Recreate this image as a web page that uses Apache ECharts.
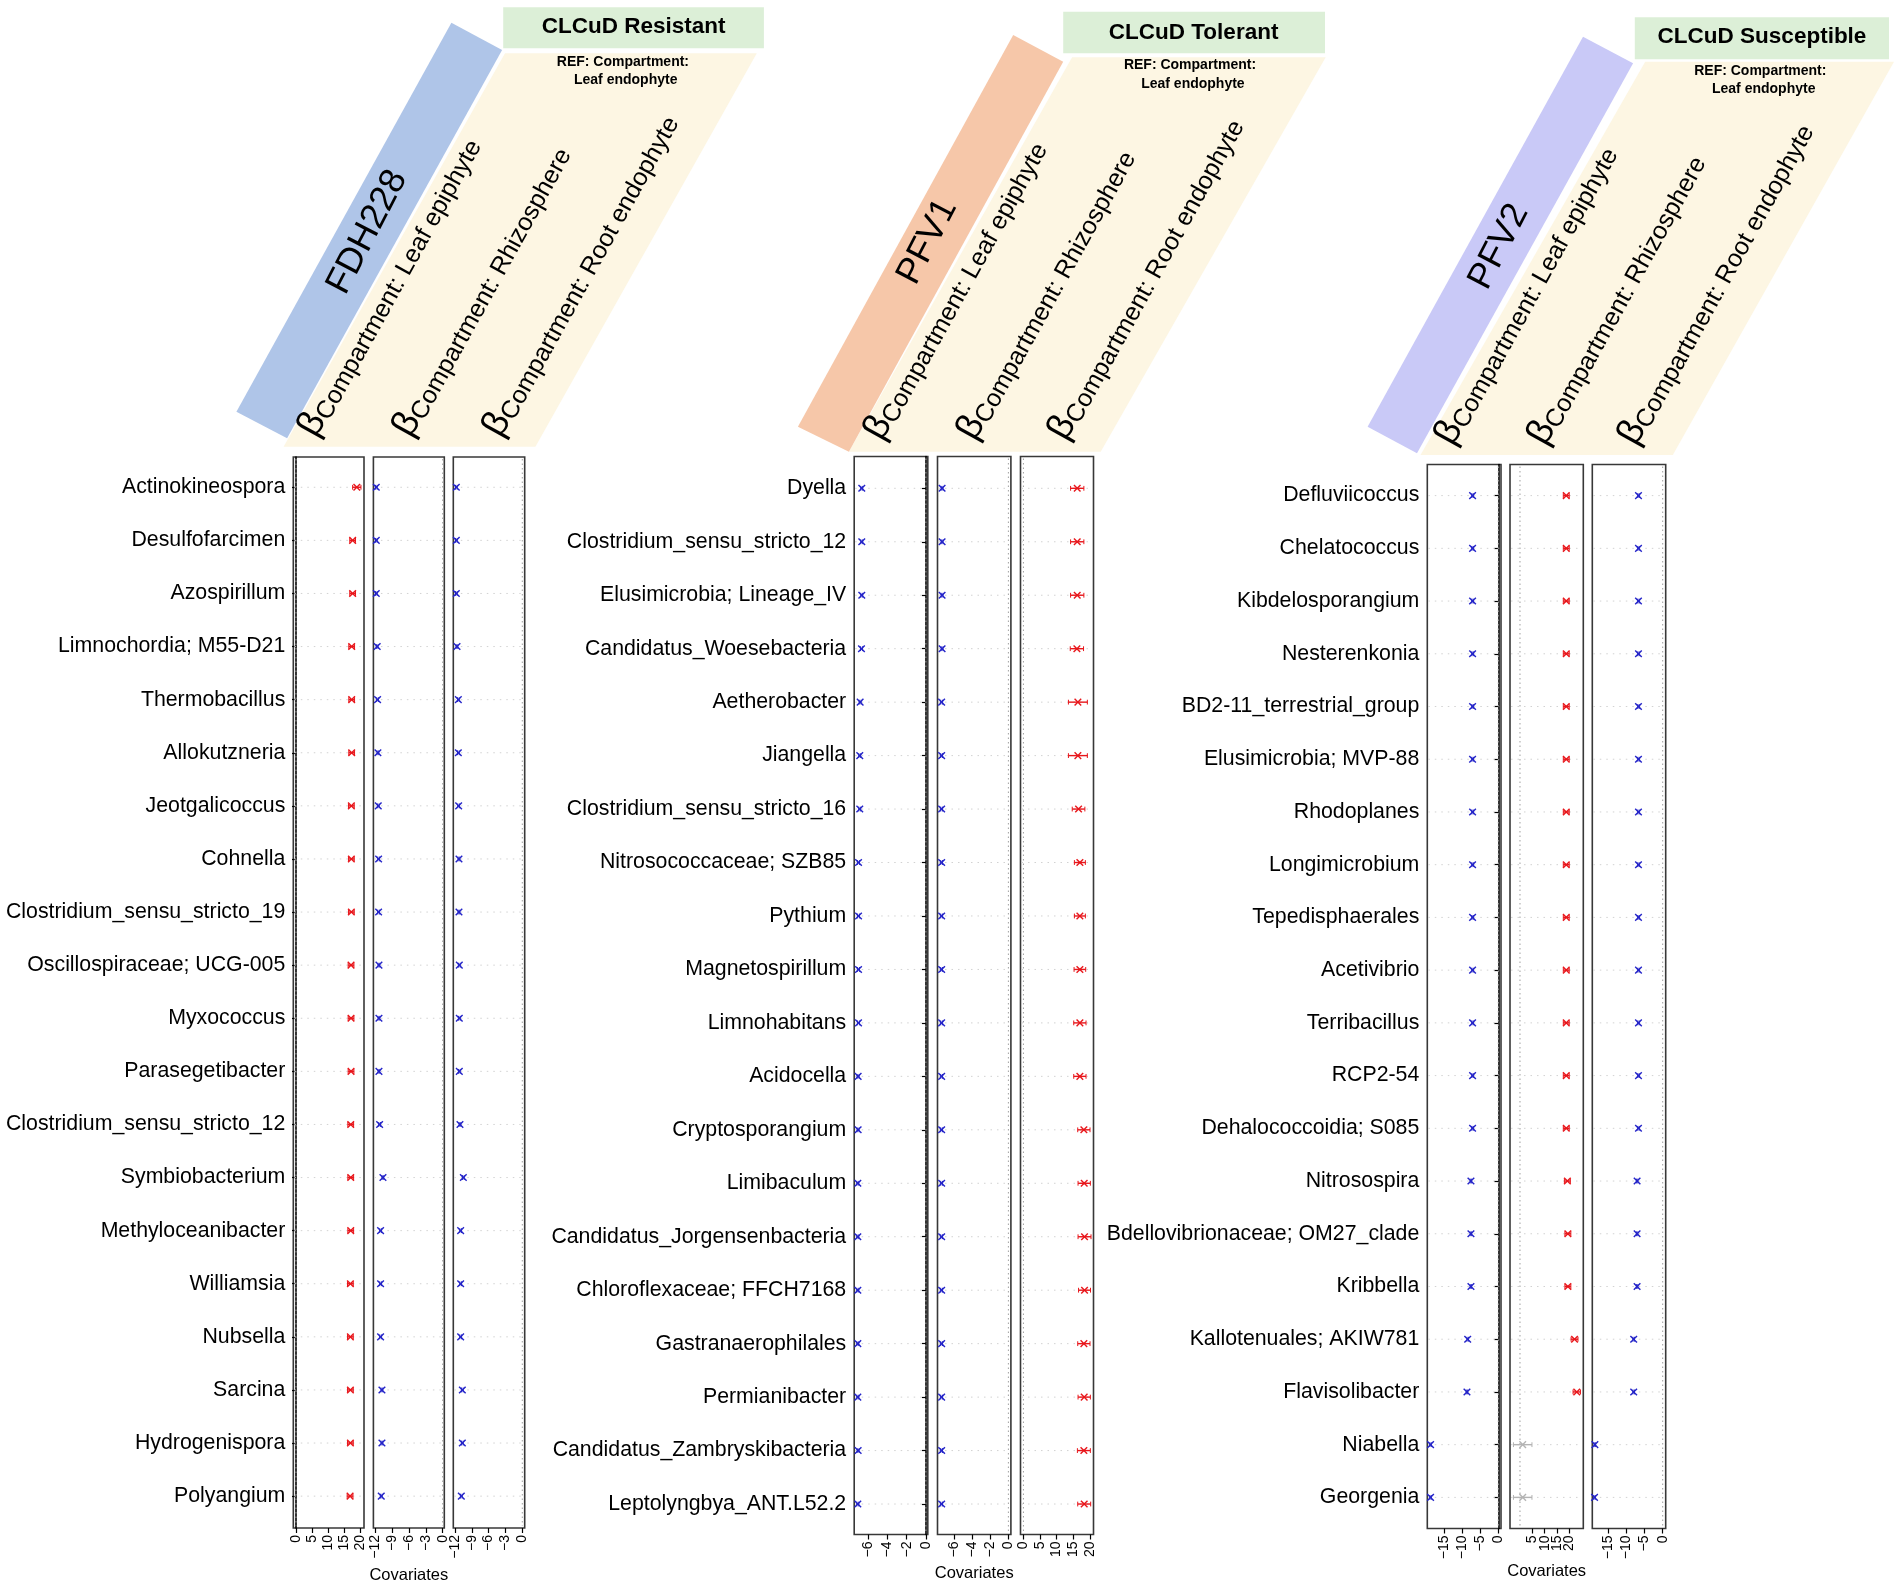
<!DOCTYPE html>
<html><head><meta charset="utf-8">
<script src="https://cdn.jsdelivr.net/npm/echarts@6/dist/echarts.min.js"></script>
<style>html,body{margin:0;padding:0;background:#fff}#c{width:1902px;height:1585px}</style>
</head><body><div id="c"></div>
<script>
// ---------------- DATA ----------------
const resistantTaxa = ['Actinokineospora','Desulfofarcimen','Azospirillum','Limnochordia; M55-D21','Thermobacillus','Allokutzneria','Jeotgalicoccus','Cohnella','Clostridium_sensu_stricto_19','Oscillospiraceae; UCG-005','Myxococcus','Parasegetibacter','Clostridium_sensu_stricto_12','Symbiobacterium','Methyloceanibacter','Williamsia','Nubsella','Sarcina','Hydrogenispora','Polyangium'];
const resistantEpiphyte = [19.0,17.7,17.7,17.4,17.4,17.4,17.3,17.3,17.3,17.2,17.2,17.2,17.1,17.1,17.1,17.0,17.0,17.0,17.0,16.9];
const resistantEpiphyteErr = [1.3,0.9,0.9,0.9,0.9,0.9,0.9,0.9,0.9,0.9,0.9,0.9,0.9,0.9,0.9,0.9,0.9,0.9,0.9,0.9];
const resistantRhizosphere = [-11.76,-11.76,-11.76,-11.6,-11.53,-11.47,-11.41,-11.35,-11.35,-11.29,-11.29,-11.29,-11.17,-10.58,-11.0,-11.0,-11.0,-10.76,-10.76,-10.88];
const resistantRhizosphereErr = [0.15,0.15,0.15,0.15,0.15,0.15,0.15,0.15,0.15,0.15,0.15,0.15,0.15,0.15,0.15,0.15,0.15,0.15,0.15,0.15];
const resistantRoot = [-11.76,-11.76,-11.76,-11.64,-11.4,-11.4,-11.35,-11.29,-11.29,-11.23,-11.23,-11.23,-11.11,-10.51,-10.99,-10.99,-10.99,-10.69,-10.69,-10.87];
const resistantRootErr = [0.15,0.15,0.15,0.15,0.15,0.15,0.15,0.15,0.15,0.15,0.15,0.15,0.15,0.15,0.15,0.15,0.15,0.15,0.15,0.15];

const tolerantTaxa = ['Dyella','Clostridium_sensu_stricto_12','Elusimicrobia; Lineage_IV','Candidatus_Woesebacteria','Aetherobacter','Jiangella','Clostridium_sensu_stricto_16','Nitrosococcaceae; SZB85','Pythium','Magnetospirillum','Limnohabitans','Acidocella','Cryptosporangium','Limibaculum','Candidatus_Jorgensenbacteria','Chloroflexaceae; FFCH7168','Gastranaerophilales','Permianibacter','Candidatus_Zambryskibacteria','Leptolyngbya_ANT.L52.2'];
const tolerantEpiphyte = [-6.69,-6.69,-6.69,-6.72,-6.86,-6.9,-6.9,-7.03,-7.03,-7.03,-7.03,-7.07,-7.07,-7.1,-7.1,-7.1,-7.1,-7.1,-7.07,-7.1];
const tolerantEpiphyteErr = [0.1,0.1,0.1,0.1,0.1,0.1,0.1,0.1,0.1,0.1,0.1,0.1,0.1,0.1,0.1,0.1,0.1,0.1,0.1,0.1];
const tolerantRhizosphere = [-7.37,-7.37,-7.37,-7.37,-7.42,-7.42,-7.42,-7.42,-7.42,-7.42,-7.42,-7.42,-7.42,-7.42,-7.42,-7.42,-7.42,-7.42,-7.42,-7.42];
const tolerantRhizosphereErr = [0.1,0.1,0.1,0.1,0.1,0.1,0.1,0.1,0.1,0.1,0.1,0.1,0.1,0.1,0.1,0.1,0.1,0.1,0.1,0.1];
const tolerantRoot = [16.2,16.2,16.2,16.1,16.4,16.4,16.6,17.0,17.0,17.0,17.0,17.0,18.2,18.3,18.4,18.4,18.2,18.3,18.2,18.3];
const tolerantRootErr = [2.0,2.0,2.0,2.0,2.85,2.85,1.9,1.65,1.65,1.75,1.85,1.85,1.85,1.85,1.95,1.8,1.85,1.85,1.95,1.95];

const susceptibleTaxa = ['Defluviicoccus','Chelatococcus','Kibdelosporangium','Nesterenkonia','BD2-11_terrestrial_group','Elusimicrobia; MVP-88','Rhodoplanes','Longimicrobium','Tepedisphaerales','Acetivibrio','Terribacillus','RCP2-54','Dehalococcoidia; S085','Nitrosospira','Bdellovibrionaceae; OM27_clade','Kribbella','Kallotenuales; AKIW781','Flavisolibacter','Niabella','Georgenia'];
const susceptibleEpiphyte = [-7.1,-7.1,-7.1,-7.1,-7.1,-7.1,-7.1,-7.1,-7.1,-7.1,-7.1,-7.1,-7.1,-7.55,-7.55,-7.55,-8.45,-8.65,-18.7,-18.7];
const susceptibleEpiphyteErr = [0.2,0.2,0.2,0.2,0.2,0.2,0.2,0.2,0.2,0.2,0.2,0.2,0.2,0.2,0.2,0.2,0.2,0.2,0.2,0.2];
const susceptibleRhizosphere = [18.75,18.75,18.75,18.75,18.75,18.75,18.75,18.75,18.75,18.75,18.75,18.75,18.75,19.2,19.4,19.4,22.1,23.0,1.1,1.1];
const susceptibleRhizosphereErr = [1.2,1.2,1.2,1.2,1.2,1.2,1.2,1.2,1.2,1.2,1.2,1.2,1.2,1.2,1.2,1.2,1.4,1.5,3.75,3.75];
const susceptibleRoot = [-6.68,-6.68,-6.68,-6.68,-6.68,-6.68,-6.68,-6.68,-6.68,-6.68,-6.68,-6.68,-6.68,-7.06,-7.06,-7.06,-8.0,-8.0,-18.7,-18.8];
const susceptibleRootErr = [0.2,0.2,0.2,0.2,0.2,0.2,0.2,0.2,0.2,0.2,0.2,0.2,0.2,0.2,0.2,0.2,0.2,0.2,0.2,0.2];

const ticksResistant = [[0,5,10,15,20],[-12,-9,-6,-3,0],[-12,-9,-6,-3,0]];
const ticksTolerant = [[-6,-4,-2,0],[-6,-4,-2,0],[0,5,10,15,20]];
const ticksSusceptible = [[-15,-10,-5,0],[0,5,10,15,20,25],[-15,-10,-5,0]];
const rowTicks = [1,2,3,4,5,6,7,8,9,10,11,12,13,14,15,16,17,18,19,20];

// ---------------- LAYOUT ----------------
const RED = '#e8161b', BLUE = '#2424c8', GRAY = '#b4b4b4';
const FONT = "'Liberation Sans', Arial, Helvetica, sans-serif";
const groups = [
  { taxa: resistantTaxa, ticks: ticksResistant, top: 457, height: 1071, ymin: 0.43, ymax: 20.6, nameGap: 34,
    series: [[resistantEpiphyte, resistantEpiphyteErr],[resistantRhizosphere, resistantRhizosphereErr],[resistantRoot, resistantRootErr]],
    panels: [{left:293.3,width:70.7,min:-0.84,max:21.25},{left:373.4,width:70.9,min:-12.27,max:0.28},{left:453.3,width:71.4,min:-12.3,max:0.43}] },
  { taxa: tolerantTaxa, ticks: ticksTolerant, top: 456.5, height: 1078, ymin: 0.405, ymax: 20.57, nameGap: 29,
    series: [[tolerantEpiphyte, tolerantEpiphyteErr],[tolerantRhizosphere, tolerantRhizosphereErr],[tolerantRoot, tolerantRootErr]],
    panels: [{left:854.2,width:73.6,min:-7.48,max:0.2},{left:937.5,width:73.4,min:-7.88,max:0.28},{left:1020.5,width:73,min:-0.88,max:21.1}] },
  { taxa: susceptibleTaxa, ticks: ticksSusceptible, top: 464.5, height: 1064, ymin: 0.41, ymax: 20.59, nameGap: 34,
    series: [[susceptibleEpiphyte, susceptibleEpiphyteErr],[susceptibleRhizosphere, susceptibleRhizosphereErr],[susceptibleRoot, susceptibleRootErr]],
    panels: [{left:1427.3,width:73.7,min:-19.6,max:0.75},{left:1510,width:73.3,min:-4.05,max:25.65},{left:1592.3,width:73.4,min:-19.42,max:0.83}] }
];

function fmtTick(v){ return v < 0 ? '\u2212' + Math.abs(v) : String(v); }

function renderItem(params, api){
  const est = api.value(0), row = api.value(1), lo = api.value(2), hi = api.value(3);
  const cs = params.coordSys;
  const p = api.coord([est,row]), pl = api.coord([lo,row]), ph = api.coord([hi,row]);
  const col = lo > 0 ? RED : (hi < 0 ? BLUE : GRAY);
  const ch = [];
  ch.push({type:'line', silent:true, shape:{x1:cs.x+1, y1:p[1], x2:cs.x+cs.width-1, y2:p[1]}, style:{stroke:'#d2d2d2', lineWidth:1, lineDash:[1.5,5]}});
  if (params.dataIndex === 0){
    const z = api.coord([0,row])[0];
    ch.push({type:'line', silent:true, shape:{x1:z, y1:cs.y+2, x2:z, y2:cs.y+cs.height-2}, style:{stroke:'#a0a0a0', lineWidth:1, lineDash:[1.5,3]}});
  }
  ch.push({type:'line', shape:{x1:pl[0], y1:p[1], x2:ph[0], y2:p[1]}, style:{stroke:col, lineWidth:1.4}});
  const c = 2.4;
  ch.push({type:'line', shape:{x1:pl[0], y1:p[1]-c, x2:pl[0], y2:p[1]+c}, style:{stroke:col, lineWidth:1}});
  ch.push({type:'line', shape:{x1:ph[0], y1:p[1]-c, x2:ph[0], y2:p[1]+c}, style:{stroke:col, lineWidth:1}});
  const s = 3.3;
  ch.push({type:'line', shape:{x1:p[0]-s, y1:p[1]-s, x2:p[0]+s, y2:p[1]+s}, style:{stroke:col, lineWidth:1.4}});
  ch.push({type:'line', shape:{x1:p[0]-s, y1:p[1]+s, x2:p[0]+s, y2:p[1]-s}, style:{stroke:col, lineWidth:1.4}});
  return {type:'group', children:ch};
}

const grid = [], xAxis = [], yAxis = [], series = [];
groups.forEach((g, gi) => {
  g.panels.forEach((pn, pi) => {
    const idx = grid.length;
    grid.push({left:pn.left, top:g.top, width:pn.width, height:g.height, show:true, borderColor:'#383838', borderWidth:1.6, backgroundColor:'rgba(0,0,0,0)', containLabel:false, outerBoundsMode:'none'});
    const ticks = g.ticks[pi];
    xAxis.push({gridIndex:idx, type:'value', min:pn.min, max:pn.max,
      name: pi === 1 ? 'Covariates' : '', nameLocation:'middle', nameGap:g.nameGap,
      nameTextStyle:{fontSize:16.5, color:'#000', fontFamily:FONT},
      axisLine:{show:false}, splitLine:{show:false},
      axisTick:{show:true, inside:false, length:5, customValues:ticks, lineStyle:{color:'#000', width:1.2}},
      axisLabel:{show:true, customValues:ticks, rotate:90, margin:7, fontSize:14, color:'#000', fontFamily:FONT, formatter:fmtTick}});
    const isA = pi === 0;
    const taxa = g.taxa;
    yAxis.push({gridIndex:idx, type:'value', inverse:true, min:g.ymin, max:g.ymax,
      splitLine:{show:false},
      axisLine:{show:isA, lineStyle:{color:'#000', width:1.6}},
      axisTick:{show:isA, length:4, customValues:rowTicks, lineStyle:{color:'#000', width:1.2}},
      axisLabel:{show:isA, customValues:rowTicks, margin:8, fontSize:21.3, color:'#000', fontFamily:FONT,
        formatter: v => taxa[Math.round(v)-1] || ''}});
    const est = g.series[pi][0], err = g.series[pi][1];
    series.push({type:'custom', xAxisIndex:idx, yAxisIndex:idx, renderItem, silent:true,
      encode:{x:0, y:1},
      data: est.map((v,i) => [v, i+1, v-err[i], v+err[i]])});
  });
});

// ---------------- HEADER GRAPHICS ----------------
const ROT_B = 61 * Math.PI / 180;
const ROT_T = 62.5 * Math.PI / 180;
const BOFF = [-5, 8.8]; // from beta centre to text anchor
const headers = [
  { band:[[451.4,22.7],[502.1,50],[287.1,438.3],[236.4,411.7]], bandColor:'#afc5e8',
    beige:[[505,53.3],[756.8,53.3],[535.4,446.7],[283.6,446.7]],
    green:[503.2,7.3,260.7,41], title:'CLCuD Resistant', titlePos:[633.6,27],
    ref1:[622.9,61.7], ref2:[625.7,80], name:'FDH228', namePos:[367.5,232],
    betas:[[312.1,425],[406.8,425],[496.8,425]] },
  { band:[[1013.2,35],[1063.2,61.7],[848.9,451.7],[797.9,426.7]], bandColor:'#f6c7a9',
    beige:[[1072.1,57.3],[1325.7,57.3],[1100.7,451.7],[848.9,451.7]],
    green:[1063.2,11.7,261.8,41.6], title:'CLCuD Tolerant', titlePos:[1193.6,32.3],
    ref1:[1190,65], ref2:[1192.9,84], name:'PFV1', namePos:[927.5,241.7],
    betas:[[878.2,428.3],[971.1,428.3],[1062.1,428.3]] },
  { band:[[1583,36.7],[1633.1,63.3],[1417,453.3],[1367.6,426.7]], bandColor:'#c9c9f7',
    beige:[[1645.2,61.7],[1894,61.7],[1672.8,455],[1420.5,455]],
    green:[1634.8,17.3,254.2,42], title:'CLCuD Susceptible', titlePos:[1762,36.7],
    ref1:[1760.3,70.7], ref2:[1763.7,89.3], name:'PFV2', namePos:[1499,246.7],
    betas:[[1448.8,433.3],[1541.5,433.3],[1632,433.3]] }
];
const betaTexts = ['Compartment: Leaf epiphyte','Compartment: Rhizosphere','Compartment: Root endophyte'];
const graphic = [];
headers.forEach(h => {
  graphic.push({type:'polygon', shape:{points:h.beige}, style:{fill:'#fdf6e3'}, silent:true});
  graphic.push({type:'polygon', shape:{points:h.band}, style:{fill:h.bandColor}, silent:true});
  graphic.push({type:'rect', shape:{x:h.green[0], y:h.green[1], width:h.green[2], height:h.green[3]}, style:{fill:'#dcefd7'}, silent:true});
  graphic.push({type:'text', x:h.titlePos[0], y:h.titlePos[1], style:{text:h.title, fontSize:22.5, fontWeight:'bold', fontFamily:FONT, fill:'#000', align:'center', verticalAlign:'middle'}, silent:true});
  graphic.push({type:'text', x:h.ref1[0], y:h.ref1[1], style:{text:'REF: Compartment:', fontSize:14, fontWeight:'bold', fontFamily:FONT, fill:'#000', align:'center', verticalAlign:'middle'}, silent:true});
  graphic.push({type:'text', x:h.ref2[0], y:h.ref2[1], style:{text:'Leaf endophyte', fontSize:14, fontWeight:'bold', fontFamily:FONT, fill:'#000', align:'center', verticalAlign:'middle'}, silent:true});
  graphic.push({type:'text', x:h.namePos[0], y:h.namePos[1], rotation:ROT_T, style:{text:h.name, fontSize:36, fontFamily:FONT, fill:'#000', align:'center', verticalAlign:'middle'}, silent:true});
  h.betas.forEach((b, i) => {
    graphic.push({type:'text', x:b[0]+BOFF[0], y:b[1]+BOFF[1], rotation:ROT_B, silent:true,
      style:{text:'{b|\u03b2}{s|' + betaTexts[i] + '}', align:'left', verticalAlign:'middle',
        rich:{ b:{fontSize:37, fontFamily:FONT, fill:'#000', verticalAlign:'bottom'},
               s:{fontSize:25, fontFamily:FONT, fill:'#000', verticalAlign:'bottom'} } }});
  });
});

const chart = echarts.init(document.getElementById('c'), null, {renderer:'canvas'});
chart.setOption({animation:false, backgroundColor:'#fff', grid, xAxis, yAxis, series, graphic});
</script>
</body></html>
